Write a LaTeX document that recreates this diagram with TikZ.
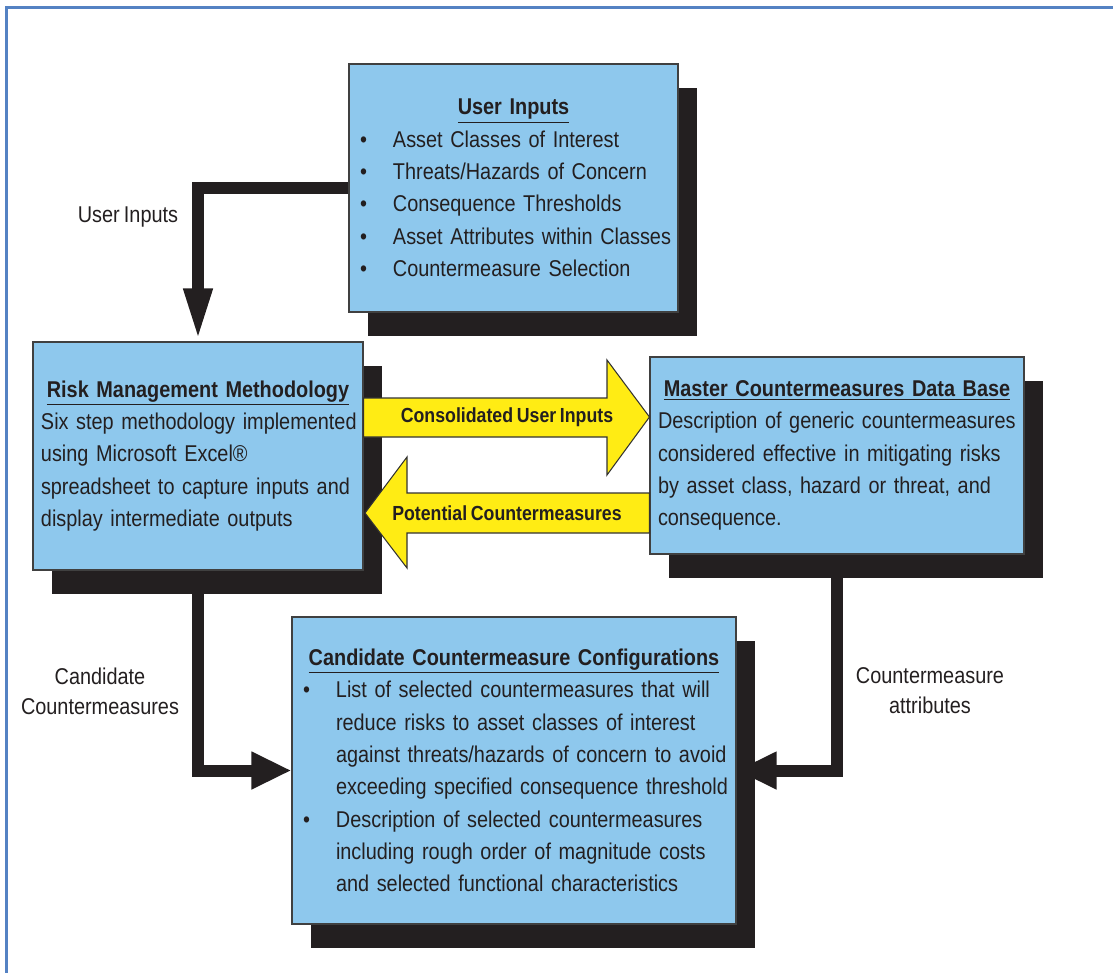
\documentclass[tikz,border=0pt]{standalone}
\usepackage{fontspec}
\setmainfont{Liberation Sans}[FakeStretch=0.87, WordSpace=0.75]
\usetikzlibrary{arrows.meta,shadows,backgrounds}

\definecolor{panelblue}{RGB}{142,200,237}
\definecolor{inkblack}{RGB}{35,31,32}
\definecolor{flowyellow}{RGB}{255,236,20}
\definecolor{framerule}{RGB}{84,130,195}

\hyphenpenalty=10000
\exhyphenpenalty=10000
\newcommand{\padin}{\leftskip=0.14cm\relax}
\newcommand{\blt}{\hspace*{0.06cm}\makebox[0.66cm][l]{\textbullet}}
\newcommand{\hangline}{\hspace*{0.72cm}}
\newcommand{\heading}[1]{{\centering\underline{\textbf{#1}}\par}}

\tikzset{
  panel/.style={rectangle, draw=black!75, line width=0.6pt, fill=panelblue, text=inkblack,
    inner xsep=0.02cm, inner ysep=0pt, align=left,
    drop shadow={shadow xshift=0.38cm, shadow yshift=-0.48cm, fill=inkblack, opacity=1}},
  feed/.style={draw=inkblack, line width=0.24cm, -{Triangle[length=0.8cm,width=0.7cm]}},
  flow/.style={draw=black!80, line width=0.6pt, fill=flowyellow},
  flowlabel/.style={font=\fontsize{11.6}{14}\selectfont\bfseries, text=inkblack},
  note/.style={align=center, text=inkblack, font=\fontsize{13}{17}\selectfont}
}

\begin{document}
\begin{tikzpicture}[font=\fontsize{13}{18.4}\selectfont]
  \useasboundingbox (0,0) rectangle (22.26,-19.46);
  \draw[framerule, line width=1.2pt] (0.13,-19.46) |- (22.26,-0.15);

  % boxes
  \node[panel, minimum width=6.58cm, text width=6.54cm, minimum height=4.96cm] (user) at (10.27,-3.76) {%
    \padin\heading{User Inputs}
    \blt Asset Classes of Interest\\
    \blt Threats/Hazards of Concern\\
    \blt Consequence Thresholds\\
    \blt Asset Attributes within Classes\\
    \blt Countermeasure Selection\par};
  \node[panel, minimum width=6.6cm, text width=6.56cm, minimum height=4.56cm] (risk) at (3.96,-9.12) {%
    \padin\heading{Risk Management Methodology}
    Six step methodology implemented\\
    using Microsoft Excel®\\
    spreadsheet to capture inputs and\\
    display intermediate outputs\par};
  \node[panel, minimum width=7.48cm, text width=7.44cm, minimum height=3.94cm] (master) at (16.74,-9.11) {%
    \padin\heading{Master Countermeasures Data Base}
    Description of generic countermeasures\\
    considered effective in mitigating risks\\
    by asset class, hazard or threat, and\\
    consequence.\par};
  \node[panel, minimum width=8.88cm, text width=8.84cm, minimum height=6.14cm] (cand) at (10.28,-15.41) {%
    \padin\heading{Candidate Countermeasure Configurations}
    \blt List of selected countermeasures that will\\
    \hangline reduce risks to asset classes of interest\\
    \hangline against threats/hazards of concern to avoid\\
    \hangline exceeding specified consequence threshold\\
    \blt Description of selected countermeasures\\
    \hangline including rough order of magnitude costs\\
    \hangline and selected functional characteristics\par};

  % black connectors, behind the boxes
  \begin{scope}[on background layer]
    \draw[feed, -{Triangle[length=1.06cm,width=0.52cm]}] (user.west) -| (risk.north);
    \draw[feed] (risk.south) |- (cand.west);
    \draw[feed] (master.south) |- (cand.east);
  \end{scope}

  % yellow exchange arrows
  \draw[flow] (risk.east |- 0,-7.96) -- (12.14,-7.96) -- (12.14,-7.2) -- (master.west |- 0,-8.34)
    -- (12.14,-9.5) -- (12.14,-8.74) -- (risk.east |- 0,-8.74) -- cycle;
  \node[flowlabel] (consol) at (10.14,-8.34) {Consolidated User Inputs};
  \draw[flow] (master.west |- 0,-9.86) -- (8.14,-9.86) -- (8.14,-9.14) -- (7.3,-10.26)
    -- (8.14,-11.36) -- (8.14,-10.66) -- (master.west |- 0,-10.66) -- cycle;
  \node[flowlabel] (potent) at (10.14,-10.26) {Potential Countermeasures};

  % labels
  \node[note] (lblinputs) at (2.56,-4.34) {User Inputs};
  \node[note] (lblcand) at (2.0,-13.82) {Candidate\\Countermeasures};
  \node[note] (lblattr) at (18.6,-13.82) {Countermeasure\\attributes};
\end{tikzpicture}
\end{document}
